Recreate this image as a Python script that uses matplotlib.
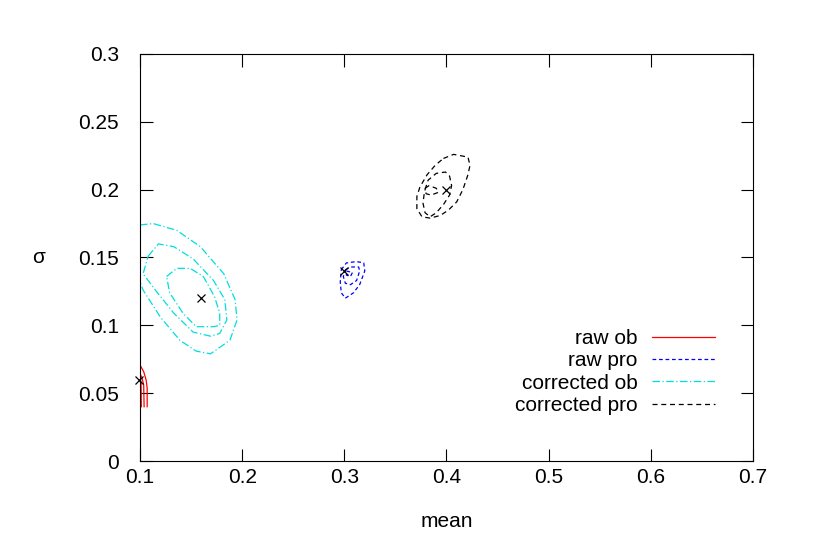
import matplotlib
matplotlib.use('Agg')
import matplotlib.pyplot as plt

plt.rcParams['font.family'] = ['Liberation Sans', 'DejaVu Sans']

# contour levels, (mean, sigma) pairs
raw_ob = [
    ([0.100, 0.1036, 0.106, 0.107, 0.107], [0.0707, 0.0658, 0.0597, 0.0536, 0.040]),
    ([0.100, 0.102, 0.1036, 0.104], [0.0646, 0.061, 0.056, 0.040]),
    ([0.100, 0.101, 0.1013], [0.0616, 0.0573, 0.040]),
]
raw_pro = [
    ([0.297, 0.302, 0.312, 0.319, 0.320, 0.315, 0.309, 0.301, 0.297, 0.296, 0.297],
     [0.141, 0.146, 0.147, 0.146, 0.140, 0.130, 0.124, 0.120, 0.124, 0.132, 0.141]),
    ([0.301, 0.306, 0.314, 0.315, 0.312, 0.306, 0.301, 0.299, 0.301],
     [0.141, 0.143, 0.143, 0.140, 0.133, 0.130, 0.131, 0.136, 0.141]),
    ([0.302, 0.308, 0.306, 0.302, 0.302], [0.140, 0.139, 0.136, 0.137, 0.140]),
]
corr_ob = [
    ([0.100, 0.113, 0.136, 0.159, 0.182, 0.193, 0.195, 0.188, 0.169, 0.155, 0.139, 0.120, 0.103, 0.100],
     [0.174, 0.175, 0.170, 0.158, 0.138, 0.119, 0.104, 0.089, 0.079, 0.081, 0.089, 0.106, 0.126, 0.132]),
    ([0.108, 0.118, 0.133, 0.152, 0.172, 0.183, 0.185, 0.178, 0.169, 0.152, 0.133, 0.115, 0.103, 0.108],
     [0.151, 0.160, 0.158, 0.149, 0.133, 0.119, 0.104, 0.094, 0.092, 0.095, 0.109, 0.126, 0.138, 0.151]),
    ([0.126, 0.136, 0.149, 0.162, 0.173, 0.178, 0.178, 0.172, 0.155, 0.142, 0.129, 0.126],
     [0.136, 0.142, 0.142, 0.136, 0.121, 0.109, 0.100, 0.099, 0.099, 0.109, 0.124, 0.136]),
]
corr_pro = [
    ([0.397, 0.407, 0.421, 0.423, 0.421, 0.416, 0.410, 0.402, 0.394, 0.384, 0.376, 0.371, 0.371, 0.374, 0.381, 0.389, 0.397],
     [0.223, 0.226, 0.224, 0.218, 0.211, 0.200, 0.191, 0.185, 0.181, 0.179, 0.180, 0.186, 0.195, 0.202, 0.211, 0.218, 0.223]),
    ([0.379, 0.382, 0.390, 0.399, 0.403, 0.405, 0.403, 0.397, 0.390, 0.384, 0.379, 0.377, 0.378, 0.379],
     [0.200, 0.207, 0.212, 0.213, 0.210, 0.203, 0.196, 0.189, 0.183, 0.180, 0.183, 0.190, 0.196, 0.200]),
    ([0.379, 0.383, 0.390, 0.392, 0.385, 0.380, 0.379],
     [0.201, 0.203, 0.201, 0.198, 0.196, 0.197, 0.201]),
]
best_mean = [0.099, 0.16, 0.30, 0.40]
best_sigma = [0.06, 0.12, 0.14, 0.20]

x_ticks = [0.1, 0.2, 0.3, 0.4, 0.5, 0.6, 0.7]
x_labels = ['0.1', '0.2', '0.3', '0.4', '0.5', '0.6', '0.7']
y_ticks = [0, 0.05, 0.1, 0.15, 0.2, 0.25, 0.3]
y_labels = ['0', '0.05', '0.1', '0.15', '0.2', '0.25', '0.3']

fig = plt.figure(figsize=(8.3, 5.43), dpi=100)
ax = fig.add_axes([0.1687, 0.1510, 0.7385, 0.7496])

series = [
    (raw_ob, 'raw ob', dict(color='red', linestyle='-')),
    (raw_pro, 'raw pro', dict(color='blue', linestyle=(0, (3, 2.2)))),
    (corr_ob, 'corrected ob', dict(color='#00dede', linestyle=(0, (6, 2, 1, 2)))),
    (corr_pro, 'corrected pro', dict(color='black', linestyle=(0, (4, 3)))),
]
for levels, name, style in series:
    for i, (xs, ys) in enumerate(levels):
        ax.plot(xs, ys, lw=0.9, label=name if i == 0 else None, **style)

ax.plot(best_mean, best_sigma, 'x', color='black', ms=5.5, mew=0.9, clip_on=False)

ax.set_xlim(0.1, 0.7)
ax.set_ylim(0, 0.3)
ax.set_xticks(x_ticks)
ax.set_xticklabels(x_labels)
ax.set_yticks(y_ticks)
ax.set_yticklabels(y_labels)
ax.tick_params(direction='in', top=True, right=True, length=9, width=0.8,
               labelsize=15)
ax.tick_params(axis='y', pad=15)
ax.tick_params(axis='x', pad=5)
for s in ax.spines.values():
    s.set_linewidth(0.8)

ax.set_xlabel('mean', fontsize=15, labelpad=18)
ax.set_ylabel('σ', fontsize=15, rotation=0, va='center', ha='center')
ax.yaxis.set_label_coords(-0.166, 0.5)

ax.legend(loc='center right', bbox_to_anchor=(0.938, 0.219), frameon=False,
          markerfirst=False, fontsize=15, handlelength=3.0, handletextpad=0.72,
          labelspacing=0.16, borderpad=0, borderaxespad=0)

fig.savefig('out.png', dpi=100)
